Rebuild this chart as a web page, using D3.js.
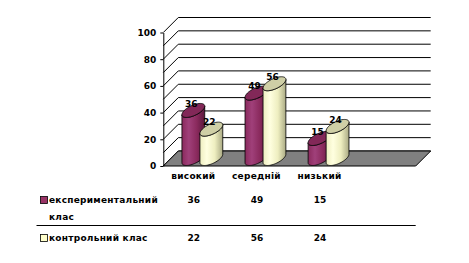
<!DOCTYPE html>
<html>
<head>
<meta charset="utf-8">
<script src="https://cdn.jsdelivr.net/npm/d3@7"></script>
<style>
  body { margin: 0; background: #fff; }
  text { font-family: "DejaVu Sans", sans-serif; font-weight: bold; font-size: 9px; fill: #000; }
  .wide { letter-spacing: 0.25px; }
</style>
</head>
<body>
<div id="chart"></div>
<script>
// data
const categories = ["високий", "середній", "низький"];
const seriesNames = ["експериментальний клас", "контрольний клас"];
const experimental = [36, 49, 15];
const control = [22, 56, 24];
const yTicks = [0, 20, 40, 60, 80, 100];
const gridValues = [0, 10, 20, 30, 40, 50, 60, 70, 80, 90, 100];

// dimensions
const WIDTH = 469, HEIGHT = 263;
const X0 = 163.3, PLOT_W = 252.4;
const Y_BOTTOM = 166, Y_TOP = 32.5;
const DEPTH = 15;

const series = [
  { name: seriesNames[0], values: experimental, light: "#a0407a", mid: "#8a2a5d", dark: "#5a183c", top: "#822858", key: "#993366" },
  { name: seriesNames[1], values: control, light: "#ffffe0", mid: "#eeeec0", dark: "#aaaa84", top: "#cfcfa6", key: "#ffffcc" }
];

const svg = d3.select("#chart").append("svg")
  .attr("width", WIDTH)
  .attr("height", HEIGHT);

const xScale = d3.scaleBand()
  .domain(categories)
  .range([X0, X0 + PLOT_W * 3 / 4]);

const yScale = d3.scaleLinear()
  .domain([0, 100])
  .range([Y_BOTTOM, Y_TOP]);

const bw = xScale.bandwidth();
const barW = bw / 3.5;
const xSub = d3.scaleBand()
  .domain(d3.range(series.length))
  .range([(bw - 2 * barW) / 2, (bw + 2 * barW) / 2]);

// gradients
const defs = svg.append("defs");
series.forEach((s, i) => {
  const g = defs.append("linearGradient").attr("id", "grad" + i)
    .attr("x1", 0).attr("x2", 1).attr("y1", 0).attr("y2", 0);
  g.append("stop").attr("offset", "0%").attr("stop-color", s.mid);
  g.append("stop").attr("offset", "30%").attr("stop-color", s.light);
  g.append("stop").attr("offset", "65%").attr("stop-color", s.mid);
  g.append("stop").attr("offset", "100%").attr("stop-color", s.dark);
});

// back wall gridlines + left wall diagonals
gridValues.forEach(v => {
  const y = yScale(v);
  svg.append("line")
    .attr("x1", X0 + DEPTH).attr("y1", y - DEPTH)
    .attr("x2", X0 + PLOT_W + DEPTH).attr("y2", y - DEPTH)
    .attr("stroke", "#000").attr("stroke-width", 1);
  svg.append("line")
    .attr("x1", X0).attr("y1", y)
    .attr("x2", X0 + DEPTH).attr("y2", y - DEPTH)
    .attr("stroke", "#000").attr("stroke-width", 1);
});

// floor
svg.append("path")
  .attr("d", `M${X0},${Y_BOTTOM}L${X0 + PLOT_W},${Y_BOTTOM}L${X0 + PLOT_W + DEPTH},${Y_BOTTOM - DEPTH}L${X0 + DEPTH},${Y_BOTTOM - DEPTH}Z`)
  .attr("fill", "#808080")
  .attr("stroke", "#000");

// y axis
const yAxis = svg.append("g")
  .attr("transform", `translate(${X0},0)`)
  .call(d3.axisLeft(yScale).tickValues(yTicks).tickSize(3).tickSizeOuter(0).tickPadding(4));
yAxis.select(".domain").attr("stroke", "#000");
yAxis.selectAll("text").attr("font-size", null).attr("font-family", null);

// cylinders
const A = barW / 2, B = 7;
const a = Math.atan(B / A);
const tL = Math.PI + a, tR = 2 * Math.PI + a;
function pt(cx, cy, t) {
  return [cx + A * Math.cos(t) + B * Math.sin(t), cy - B * Math.sin(t)];
}
function arc(cx, cy, t0, t1, n) {
  return d3.range(n + 1).map(k => pt(cx, cy, t0 + (t1 - t0) * k / n));
}

categories.forEach((cat, ci) => {
  series.forEach((s, si) => {
    const v = s.values[ci];
    const cx = xScale(cat) + xSub(si) + barW / 2 + DEPTH / 2;
    const cyTop = yScale(v) - DEPTH / 2;
    const cyBot = yScale(0) - DEPTH / 2;
    const body = [].concat(
      [pt(cx, cyTop, tL)],
      arc(cx, cyBot, tL, tR, 30),
      arc(cx, cyTop, tR, tL, 30)
    );
    svg.append("path")
      .attr("d", d3.line()(body) + "Z")
      .attr("fill", `url(#grad${si})`)
      .attr("stroke", "#000")
      .attr("stroke-width", 0.8);
    svg.append("path")
      .attr("d", d3.line()(arc(cx, cyTop, 0, 2 * Math.PI, 48)) + "Z")
      .attr("fill", s.top)
      .attr("stroke", "#000")
      .attr("stroke-width", 0.8);
    svg.append("text")
      .attr("x", cx - 2)
      .attr("y", cyTop - B)
      .attr("dy", "0.35em")
      .attr("text-anchor", "middle")
      .text(v);
  });
});

// category labels
svg.selectAll(".cat-label")
  .data(categories)
  .enter()
  .append("text")
  .attr("class", "cat-label wide")
  .attr("x", d => xScale(d) + bw / 2 - 1.5)
  .attr("y", 175.5)
  .attr("dy", "0.35em")
  .attr("text-anchor", "middle")
  .text(d => d);

// data table
const rowY = [200, 238];
series.forEach((s, si) => {
  const y = rowY[si];
  svg.append("rect")
    .attr("x", 40.5).attr("y", y - 3.5)
    .attr("width", 7).attr("height", 7)
    .attr("fill", s.key)
    .attr("stroke", "#000").attr("stroke-width", 0.8);
  const words = si === 0 ? ["експериментальний", "клас"] : [s.name];
  words.forEach((w, wi) => {
    svg.append("text")
      .attr("class", "wide")
      .attr("x", 49)
      .attr("y", y + wi * 17)
      .attr("dy", "0.35em")
      .text(w);
  });
  categories.forEach((cat, ci) => {
    svg.append("text")
      .attr("x", xScale(cat) + bw / 2 - 1)
      .attr("y", y)
      .attr("dy", "0.35em")
      .attr("text-anchor", "middle")
      .text(s.values[ci]);
  });
});

svg.append("line")
  .attr("x1", 36.5).attr("x2", X0 + PLOT_W)
  .attr("y1", 225.5).attr("y2", 225.5)
  .attr("stroke", "#000");
</script>
</body>
</html>
